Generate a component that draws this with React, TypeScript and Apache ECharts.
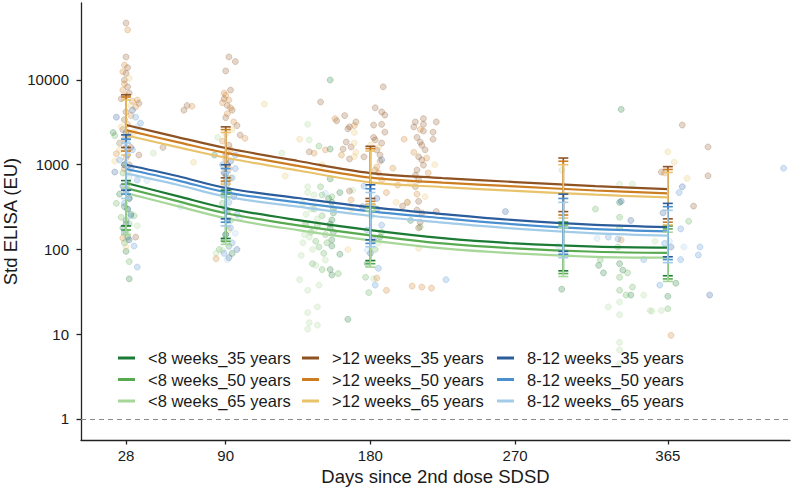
import React, { useEffect, useRef } from "react";
import * as echarts from "echarts";

const FONT = '"Liberation Sans", Arial, Helvetica, sans-serif';
const TEXT = "#1a1a1a";

const groupNames = [
  "<8 weeks_35 years",
  "<8 weeks_50 years",
  "<8 weeks_65 years",
  ">12 weeks_35 years",
  ">12 weeks_50 years",
  ">12 weeks_65 years",
  "8-12 weeks_35 years",
  "8-12 weeks_50 years",
  "8-12 weeks_65 years",
];
const groupColors = [
  "#1b7a34",
  "#58aa50",
  "#a6d798",
  "#8e5223",
  "#cc7d21",
  "#e8c36b",
  "#2b5c9c",
  "#4a8fd0",
  "#a2cbe8",
];

const xTicks = [28, 90, 180, 270, 365];
const yTicks = [1, 10, 100, 1000, 10000];

// fitted curves
const fitDays = [28, 60, 90, 135, 180, 225, 270, 320, 365];
const fitLt8_35 = [608, 427, 308, 222, 169, 136, 118, 108, 105];
const fitLt8_50 = [530, 372, 268, 193, 147, 118, 103, 94, 91];
const fitLt8_65 = [462, 325, 234, 169, 128, 103, 90, 82, 80];
const fitGt12_35 = [2940, 2120, 1575, 1107, 798, 697, 625, 560, 516];
const fitGt12_50 = [2560, 1850, 1380, 970, 705, 615, 555, 497, 460];
const fitGt12_65 = [2230, 1615, 1210, 855, 620, 545, 492, 443, 412];
const fitMid_35 = [1000, 736, 531, 405, 316, 262, 222, 195, 184];
const fitMid_50 = [890, 655, 473, 360, 282, 234, 198, 174, 164];
const fitMid_65 = [790, 580, 420, 320, 250, 208, 176, 155, 146];

// error bars [low, high] at errDays
const errDays = [28, 90, 180, 300, 365];
const errLt8_35 = [[190, 650], [135, 500], [74, 340], [56, 210], [49, 190]];
const errLt8_50 = [[170, 590], [125, 450], [68, 310], [52, 195], [45, 175]];
const errLt8_65 = [[150, 530], [115, 410], [62, 285], [48, 180], [42, 160]];
const errGt12_35 = [[1600, 6700], [700, 2800], [400, 1650], [280, 1200], [230, 950]];
const errGt12_50 = [[1450, 6300], [640, 2600], [370, 1550], [255, 1100], [210, 880]];
const errGt12_65 = [[1300, 5800], [590, 2400], [340, 1450], [235, 1000], [195, 810]];
const errMid_35 = [[500, 2250], [230, 1000], [130, 580], [95, 450], [82, 350]];
const errMid_50 = [[450, 2000], [210, 900], [118, 520], [88, 400], [76, 320]];
const errMid_65 = [[400, 1800], [190, 810], [108, 470], [80, 360], [70, 290]];

// individual observations [day, value]
const ptsLt8_35 = [
  [20, 2400], [27, 1000], [29, 600], [24, 450], [27, 320], [31, 260], [28, 220], [26, 180], [29, 140], [28, 95], [30, 45],
  [83, 1300], [92, 500], [91, 280], [89, 130], [94, 90],
  [155, 10000], [155, 1530], [155, 680], [161, 470], [156, 360], [157, 270], [156, 223], [155, 200], [157, 160], [156, 130],
  [161, 88], [155, 58], [156, 50], [166, 15], [154, 400], [157, 300], [155, 180], [156, 110],
  [184, 300], [178, 68], [186, 140], [205, 220],
  [299, 34], [322, 65], [325, 53],
  [336, 4500], [335, 360], [342, 29], [337, 57], [335, 68],
  [365, 28], [370, 40],
];
const ptsLt8_50 = [
  [21, 2200], [26, 800], [28, 500], [30, 400], [22, 350], [29, 300], [25, 240], [30, 200], [28, 160], [27, 120], [30, 72], [33, 250],
  [90, 700], [88, 350], [93, 220], [90, 150], [92, 110], [86, 100],
  [148, 1660], [149, 550], [150, 440], [156, 420], [145, 300], [150, 250], [147, 190], [152, 150], [146, 125], [148, 107],
  [151, 90], [144, 68], [150, 58], [160, 52], [140, 200], [143, 160], [153, 120],
  [179, 31], [177, 47], [183, 100], [187, 160], [211, 185],
  [323, 75], [320, 300],
  [335, 240], [335, 180], [334, 107], [335, 47], [335, 33], [339, 29], [340, 53], [343, 36],
  [378, 215], [365, 20],
];
const ptsLt8_65 = [
  [45, 1370], [35, 190], [29, 130],
  [85, 2100], [92, 680], [84, 90], [88, 98],
  [125, 1370], [141, 3000], [142, 1960], [141, 550], [141, 470], [145, 440], [138, 350], [143, 300], [140, 260], [147, 230],
  [139, 200], [145, 170], [142, 140], [138, 120], [144, 100], [137, 85], [136, 44], [141, 33], [148, 38], [141, 18], [147, 21],
  [142, 13.7], [147, 12.8], [141, 11.5], [152, 75], [146, 65], [139, 150],
  [180, 250], [169, 500], [185, 120], [182, 45],
  [299, 865], [357, 125],
  [335, 590], [343, 590], [335, 24], [335, 17], [328, 21], [350, 29], [355, 18.7], [335, 8], [335, 6.5], [335, 4.5],
  [361, 19], [354, 19],
];
const ptsGt12_35 = [
  [28, 47000], [28, 18700], [29, 14000], [28, 12000], [27, 10000], [29, 8300], [30, 7000], [25, 6000], [36, 5300], [28, 4200],
  [27, 3400], [26, 2600], [27, 2000], [31, 1600], [36, 1300], [30, 1000], [34, 140],
  [66, 5000], [64, 4400], [51, 1600],
  [92, 18700], [96, 16500], [90, 12800], [93, 7600], [89, 6000], [91, 5000], [94, 4400], [90, 3600], [97, 2900], [99, 2240],
  [92, 1700], [90, 1300], [91, 1000], [89, 800],
  [149, 5500], [164, 3800], [159, 3300], [171, 3200], [166, 2650], [165, 1850], [168, 1620], [142, 1420], [163, 1530],
  [167, 1170], [167, 490], [167, 2800],
  [188, 8300], [183, 4700], [187, 4200], [189, 3860], [182, 2940], [187, 3000], [189, 2420], [182, 2100], [183, 1960],
  [187, 1800], [184, 1490], [186, 1300], [176, 1240],
  [208, 3200], [213, 3500], [219, 2420], [221, 3200], [209, 2100], [213, 2500], [211, 1850], [210, 1240], [213, 990],
  [209, 865], [212, 1140], [210, 660], [208, 550], [200, 325], [203, 360], [210, 370], [212, 270], [211, 210], [210, 180],
  [209, 292], [221, 280], [213, 3000], [207, 2800], [214, 1500], [212, 1700], [219, 2000], [208, 750],
  [374, 2940], [390, 1620], [390, 740], [381, 325], [361, 820],
];
const ptsGt12_50 = [
  [29, 39000], [27, 15000], [26, 12500], [27, 9000], [26, 7600], [28, 6500], [35, 5800], [34, 4800], [31, 3800], [29, 3000],
  [30, 2200], [24, 1800], [22, 1350], [28, 1200], [27, 900], [26, 136], [32, 5600],
  [69, 4900],
  [89, 7000], [90, 6600], [92, 5800], [88, 5400], [93, 4700], [91, 4000], [95, 3200], [102, 2050], [88, 1900], [93, 1500],
  [90, 1150], [92, 900], [89, 600], [84, 78],
  [158, 3500], [170, 2900], [152, 1500], [145, 1370], [162, 1300], [168, 384],
  [186, 1100], [184, 940], [194, 910], [197, 575], [190, 470], [185, 800], [187, 660], [183, 865], [184, 46], [190, 33],
  [201, 2000], [211, 2600], [207, 1400], [215, 1200], [216, 800], [209, 450], [212, 36], [206, 37], [218, 35],
  [363, 800], [367, 9.7], [336, 130],
];
const ptsGt12_65 = [
  [30, 10500], [25, 2800], [24, 1500], [29, 800], [28, 107], [21, 1100], [33, 2400], [31, 5000],
  [70, 1070], [94, 2600], [90, 2300], [91, 1400], [93, 700], [90, 500], [92, 170], [114, 5200],
  [127, 735], [166, 100], [168, 300], [150, 1000], [136, 2000],
  [170, 2400], [170, 1800], [171, 1400], [170, 1250], [185, 1600], [180, 1700],
  [196, 360], [203, 360], [210, 103], [205, 600], [214, 420], [220, 1000],
  [365, 1420], [369, 1070], [377, 690],
];
const ptsMid_35 = [
  [22, 3640], [32, 4400], [28, 2400], [28, 1600], [29, 1300], [27, 1000], [21, 820], [26, 560], [30, 400], [29, 300], [28, 200], [30, 130],
  [93, 1100], [90, 780], [91, 600], [95, 420], [90, 300], [91, 220], [90, 150], [97, 100], [92, 80],
  [187, 1140], [175, 320], [180, 90], [184, 400], [182, 130],
  [264, 280], [336, 370], [342, 220],
  [374, 550], [362, 270], [367, 107], [391, 29],
];
const ptsMid_50 = [
  [34, 3640], [37, 3100], [29, 2000], [32, 1500], [24, 1140], [31, 900], [35, 660], [28, 480], [27, 350], [31, 250], [27, 160],
  [33, 110], [35, 62],
  [88, 1000], [96, 900], [94, 700], [89, 500], [92, 360], [97, 260], [93, 180], [94, 120], [89, 90], [96, 1300],
  [178, 170], [183, 38], [187, 194], [176, 560], [185, 60],
  [227, 44], [437, 910],
  [328, 140], [350, 76], [334, 133],
  [372, 470], [360, 38], [373, 76], [385, 107], [384, 86], [373, 175], [363, 118],
];
const ptsMid_65 = [
  [35, 2800], [24, 1800], [30, 700], [41, 650], [62, 320],
  [99, 240], [96, 155], [91, 76], [92, 107],
  [178, 98], [181, 250], [152, 460],
  [297, 110], [321, 135],
  [366, 125], [375, 107],
];

const fits = [fitLt8_35, fitLt8_50, fitLt8_65, fitGt12_35, fitGt12_50, fitGt12_65, fitMid_35, fitMid_50, fitMid_65];
const errs = [errLt8_35, errLt8_50, errLt8_65, errGt12_35, errGt12_50, errGt12_65, errMid_35, errMid_50, errMid_65];
const pts = [ptsLt8_35, ptsLt8_50, ptsLt8_65, ptsGt12_35, ptsGt12_50, ptsGt12_65, ptsMid_35, ptsMid_50, ptsMid_65];

function rgba(hex: string, a: number) {
  const n = parseInt(hex.slice(1), 16);
  return `rgba(${(n >> 16) & 255},${(n >> 8) & 255},${n & 255},${a})`;
}

function buildOption() {
  const series: any[] = [];
  groupNames.forEach((g, i) => {
    const c = groupColors[i];
    series.push({
      type: "scatter",
      name: "pts_" + g,
      data: pts[i],
      symbol: "circle",
      symbolSize: 6,
      silent: true,
      z: 1,
      itemStyle: { color: rgba(c, 0.3), borderColor: rgba(c, 0.45), borderWidth: 0.7 },
      ...(i === 0
        ? {
            markLine: {
              silent: true,
              symbol: "none",
              label: { show: false },
              lineStyle: { type: [5, 4], color: "#8a8a8a", width: 1 },
              data: [{ yAxis: 1 }],
            },
          }
        : {}),
    });
  });
  groupNames.forEach((g, i) => {
    const c = groupColors[i];
    series.push({
      type: "line",
      name: g,
      color: c,
      data: fitDays.map((d, k) => [d, fits[i][k]]),
      smooth: 0.35,
      symbol: "none",
      showSymbol: false,
      silent: true,
      z: 3,
      lineStyle: { color: c, width: 2.2 },
      itemStyle: { color: c },
    });
  });
  groupNames.forEach((g, i) => {
    const c = groupColors[i];
    series.push({
      type: "custom",
      name: "err_" + g,
      silent: true,
      z: 4,
      data: errDays.map((d, k) => [d, errs[i][k][0], errs[i][k][1]]),
      encode: { x: 0, y: [1, 2] },
      renderItem: (params: any, api: any) => {
        const d = api.value(0);
        const lo = api.coord([d, api.value(1)]);
        const hi = api.coord([d, api.value(2)]);
        const hw = 5;
        const st = { stroke: c, lineWidth: 1.6, fill: "none" };
        return {
          type: "group",
          children: [
            { type: "line", shape: { x1: lo[0], y1: lo[1], x2: hi[0], y2: hi[1] }, style: st },
            { type: "line", shape: { x1: lo[0] - hw, y1: lo[1], x2: lo[0] + hw, y2: lo[1] }, style: st },
            { type: "line", shape: { x1: hi[0] - hw, y1: hi[1], x2: hi[0] + hw, y2: hi[1] }, style: st },
          ],
        };
      },
    });
  });

  const legendCommon = {
    orient: "vertical",
    top: 349.5,
    itemWidth: 17,
    itemHeight: 3,
    itemGap: 4.5,
    icon: "rect",
    padding: 0,
    selectedMode: false,
    textStyle: { fontSize: 16.5, color: TEXT, fontFamily: FONT, lineHeight: 17, padding: [0, 0, 0, 8] },
  };

  return {
    animation: false,
    backgroundColor: "#ffffff",
    grid: { left: 81, right: 2, top: 3, bottom: 50, containLabel: false, outerBoundsMode: "none" },
    legend: [
      { ...legendCommon, left: 118, data: groupNames.slice(0, 3) },
      { ...legendCommon, left: 302, data: groupNames.slice(3, 6) },
      { ...legendCommon, left: 497, data: groupNames.slice(6, 9) },
    ],
    xAxis: {
      type: "value",
      min: 0,
      max: 441,
      splitLine: { show: false },
      axisLine: { show: true, onZero: false, lineStyle: { color: "#222", width: 1.3 } },
      axisTick: { show: true, length: 4.5, lineStyle: { color: "#222", width: 1.3 }, customValues: xTicks },
      axisLabel: { customValues: xTicks, fontSize: 15, color: TEXT, margin: 8, fontFamily: FONT, formatter: (v: number) => String(Math.round(v)) },
      name: "Days since 2nd dose SDSD",
      nameLocation: "middle",
      nameGap: 27,
      nameMoveOverlap: false,
      nameTextStyle: { fontSize: 18.5, color: TEXT, fontFamily: FONT },
    },
    yAxis: {
      type: "log",
      logBase: 10,
      min: 0.565,
      max: 81000,
      splitLine: { show: false },
      minorTick: { show: false },
      axisLine: { show: true, onZero: false, lineStyle: { color: "#222", width: 1.3 } },
      axisTick: { show: true, length: 4.5, lineStyle: { color: "#222", width: 1.3 }, customValues: yTicks },
      axisLabel: { customValues: yTicks, fontSize: 15, color: TEXT, margin: 12, fontFamily: FONT, formatter: (v: number) => String(Math.round(v)) },
      name: "Std ELISA (EU)",
      nameLocation: "middle",
      nameGap: 61,
      nameMoveOverlap: false,
      nameTextStyle: { fontSize: 18.5, color: TEXT, fontFamily: FONT },
    },
    series,
  };
}

export default function App() {
  const ref = useRef<HTMLDivElement>(null);
  useEffect(() => {
    document.body.style.margin = "0";
    const chart = echarts.init(ref.current!, null, { renderer: "svg" });
    chart.setOption(buildOption() as any);
    return () => chart.dispose();
  }, []);
  return <div ref={ref} style={{ width: 792, height: 490 }} />;
}
